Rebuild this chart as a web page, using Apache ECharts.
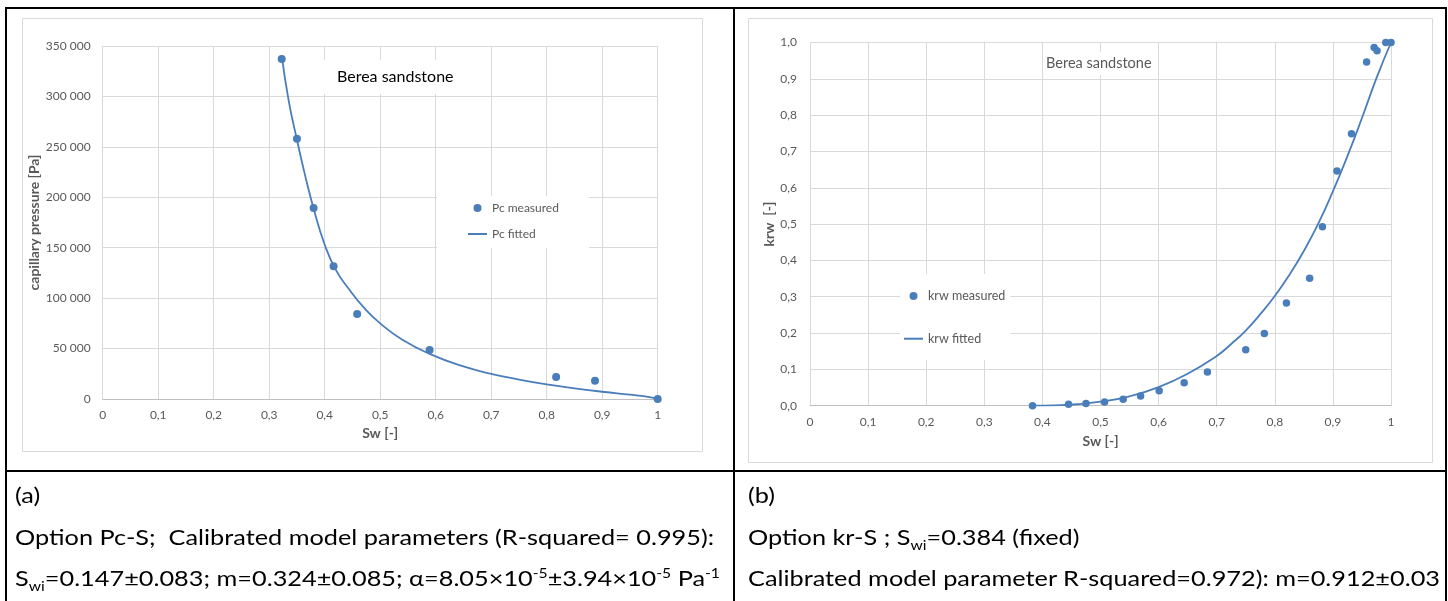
<!DOCTYPE html>
<html>
<head>
<meta charset="utf-8">
<title>Berea sandstone</title>
<script src="https://cdn.jsdelivr.net/npm/echarts@6/dist/echarts.min.js"></script>
<style>
  body { margin: 0; background: #fff; }
  #wrap { position: relative; width: 1448px; height: 601px; overflow: hidden; font-family: Lato, sans-serif; }
  #main { position: absolute; left: 0; top: 0; width: 1448px; height: 601px; }
  .ln { position: absolute; background: #000; }
  .cap { position: absolute; font-size: 21px; line-height: 24px; white-space: nowrap; color: #000; transform-origin: 0 50%; }
  .cap sub, .cap sup { font-size: 13px; line-height: 0; }
</style>
</head>
<body>
<div id="wrap">
  <div id="main"></div>
  <div class="ln" style="left:5px;top:7px;width:1442px;height:2px"></div>
  <div class="ln" style="left:5px;top:7px;width:2px;height:594px"></div>
  <div class="ln" style="left:733px;top:7px;width:2px;height:594px"></div>
  <div class="ln" style="left:1445px;top:7px;width:2px;height:594px"></div>
  <div class="ln" style="left:5px;top:470px;width:1442px;height:2px"></div>

  <div class="cap" style="left:15px;top:483px">(a)</div>
  <div class="cap" style="left:15px;top:525px">Option Pc-S;&nbsp; Calibrated model parameters (R-squared= 0.995):</div>
  <div class="cap" style="left:15px;top:566px">S<sub>wi</sub>=0.147±0.083; m=0.324±0.085; α=8.05×10<sup>-5</sup>±3.94×10<sup>-5</sup> Pa<sup>-1</sup></div>
  <div class="cap" style="left:748px;top:483px">(b)</div>
  <div class="cap" style="left:748px;top:525px">Option kr-S ; S<sub>wi</sub>=0.384 (fixed)</div>
  <div class="cap" id="capRef" style="left:748px;top:566px">Calibrated model parameter R-squared=0.972): m=0.912±0.03</div>
</div>
<script type="text/javascript">
// (a) capillary pressure
var pcSw   = [0.3225, 0.350, 0.380, 0.416, 0.4585, 0.589, 0.817, 0.887, 1.0];
var pcMeas = [337000, 258000, 189400, 131600, 84300, 48600, 21800, 18200, 0];
var pcFitSw = [0.3225, 0.335, 0.35, 0.365, 0.38, 0.40, 0.42, 0.445, 0.47, 0.50, 0.54, 0.59, 0.65, 0.70, 0.75, 0.80, 0.85, 0.90, 0.95, 0.98, 1.0];
var pcFit   = [341000, 296000, 257000, 221000, 189000, 153000, 128000, 108000, 91000, 75000, 58700, 44500, 32300, 25000, 19300, 14500, 10600, 7200, 4300, 2400, 0];

// (b) relative permeability
var krSw   = [0.383, 0.445, 0.475, 0.507, 0.539, 0.569, 0.601, 0.644, 0.684, 0.750, 0.782, 0.820, 0.860, 0.882, 0.907, 0.932, 0.958, 0.971, 0.976, 0.991, 1.0];
var krMeas = [0.0, 0.004, 0.006, 0.010, 0.018, 0.027, 0.041, 0.063, 0.093, 0.154, 0.199, 0.283, 0.351, 0.493, 0.646, 0.749, 0.946, 0.986, 0.977, 1.0, 1.0];
var krFitSw = [0.384, 0.42, 0.46, 0.50, 0.55, 0.60, 0.65, 0.70, 0.725, 0.75, 0.775, 0.80, 0.825, 0.85, 0.875, 0.90, 0.925, 0.95, 0.975, 1.0];
var krFit   = [0.0, 0.001, 0.004, 0.011, 0.026, 0.051, 0.088, 0.137, 0.170, 0.207, 0.252, 0.302, 0.360, 0.426, 0.502, 0.590, 0.687, 0.792, 0.902, 1.0];

function pairs(xs, ys) {
    return xs.map(function (x, i) { return [x, ys[i]]; });
}

var blue = '#4a7ebb';
var labelGray = '#595959';
var gridGray = '#d9d9d9';
var font = 'Lato, sans-serif';

function commaOne(v) {
    if (Math.abs(v) < 1e-9) return '0';
    if (Math.abs(v - 1) < 1e-9) return '1';
    return v.toFixed(1).replace('.', ',');
}
function commaOneFixed(v) {
    return v.toFixed(1).replace('.', ',');
}
function spaced(v) {
    return String(Math.round(v)).replace(/\B(?=(\d{3})+(?!\d))/g, ' ');
}

var tickLabel = { color: labelGray, fontFamily: font, fontSize: 12 };
var axisName = { color: labelGray, fontFamily: font, fontSize: 14, fontWeight: 'bold' };

var myChart = echarts.init(document.getElementById('main'));

option = {
    animation: false,
    backgroundColor: 'transparent',
    graphic: [{
        type: 'rect',
        shape: { x: 22.5, y: 18.5, width: 680, height: 433 },
        style: { fill: 'none', stroke: gridGray, lineWidth: 1 },
        z: -1
    }, {
        type: 'rect',
        shape: { x: 748.5, y: 18.5, width: 684, height: 444 },
        style: { fill: 'none', stroke: gridGray, lineWidth: 1 },
        z: -1
    }],
    title: [{
        text: 'Berea sandstone',
        left: 322,
        top: 60,
        padding: [9, 15],
        backgroundColor: '#fff',
        textStyle: { fontFamily: font, fontSize: 16, fontWeight: 'normal', color: '#000' }
    }, {
        text: 'Berea sandstone',
        left: 1044,
        top: 52,
        padding: [4, 2],
        backgroundColor: '#fff',
        textStyle: { fontFamily: font, fontSize: 14.5, fontWeight: 'normal', color: labelGray }
    }],
    legend: [{
        data: ['Pc measured', { name: 'Pc fitted', itemStyle: { opacity: 0 } }],
        orient: 'vertical',
        left: 437,
        top: 196,
        padding: [5, 30, 7, 30],
        itemGap: 12,
        itemWidth: 19,
        itemHeight: 8,
        backgroundColor: '#fff',
        textStyle: { color: labelGray, fontFamily: font, fontSize: 12, lineHeight: 14 }
    }, {
        data: ['krw measured', { name: 'krw fitted', itemStyle: { opacity: 0 } }],
        orient: 'vertical',
        left: 900,
        top: 274,
        padding: [15, 5, 14, 3],
        itemGap: 28.7,
        itemWidth: 19,
        itemHeight: 8,
        backgroundColor: '#fff',
        textStyle: { color: labelGray, fontFamily: font, fontSize: 12.5, lineHeight: 14 }
    }],
    grid: [{
        left: 102.7, top: 46, width: 555, height: 353
    }, {
        left: 810, top: 42.5, width: 581, height: 363.2
    }],
    xAxis: [{
        gridIndex: 0,
        type: 'value',
        min: 0, max: 1, interval: 0.1,
        name: 'Sw [-]',
        nameLocation: 'middle',
        nameGap: 27,
        nameTextStyle: axisName,
        axisLine: { show: true, lineStyle: { color: '#bfbfbf' } },
        axisTick: { show: false },
        splitLine: { show: true, lineStyle: { color: gridGray } },
        axisLabel: Object.assign({ margin: 10, formatter: commaOne }, tickLabel)
    }, {
        gridIndex: 1,
        type: 'value',
        min: 0, max: 1, interval: 0.1,
        name: 'Sw [-]',
        nameLocation: 'middle',
        nameGap: 29,
        nameTextStyle: axisName,
        axisLine: { show: true, lineStyle: { color: '#bfbfbf' } },
        axisTick: { show: false },
        splitLine: { show: true, lineStyle: { color: gridGray } },
        axisLabel: Object.assign({ margin: 10, formatter: commaOne }, tickLabel)
    }],
    yAxis: [{
        gridIndex: 0,
        type: 'value',
        min: 0, max: 350000, interval: 50000,
        name: 'capillary pressure [Pa]',
        nameLocation: 'middle',
        nameGap: 55,
        nameTextStyle: axisName,
        axisLine: { show: false },
        axisTick: { show: false },
        splitLine: { show: true, lineStyle: { color: gridGray } },
        axisLabel: Object.assign({ margin: 12, formatter: spaced }, tickLabel)
    }, {
        gridIndex: 1,
        type: 'value',
        min: 0, max: 1, interval: 0.1,
        name: 'krw  [-]',
        nameLocation: 'middle',
        nameGap: 32,
        nameTextStyle: axisName,
        axisLine: { show: false },
        axisTick: { show: false },
        splitLine: { show: true, lineStyle: { color: gridGray } },
        axisLabel: Object.assign({ margin: 13, formatter: commaOneFixed }, tickLabel)
    }],
    series: [{
        name: 'Pc fitted',
        type: 'line',
        xAxisIndex: 0, yAxisIndex: 0,
        data: pairs(pcFitSw, pcFit),
        smooth: 0.5,
        symbol: 'none',
        lineStyle: { color: blue, width: 1.8 },
        itemStyle: { color: blue },
        z: 2
    }, {
        name: 'Pc measured',
        type: 'scatter',
        xAxisIndex: 0, yAxisIndex: 0,
        data: pairs(pcSw, pcMeas),
        symbolSize: 8,
        itemStyle: { color: blue, opacity: 1 },
        z: 3
    }, {
        name: 'krw fitted',
        type: 'line',
        xAxisIndex: 1, yAxisIndex: 1,
        data: pairs(krFitSw, krFit),
        smooth: 0.5,
        symbol: 'none',
        lineStyle: { color: blue, width: 1.8 },
        itemStyle: { color: blue },
        z: 2
    }, {
        name: 'krw measured',
        type: 'scatter',
        xAxisIndex: 1, yAxisIndex: 1,
        data: pairs(krSw, krMeas),
        symbolSize: 7.5,
        itemStyle: { color: blue, opacity: 1 },
        z: 3
    }]
};

myChart.setOption(option);

// stretch caption lines to the width they take in the picture
var ref = document.getElementById('capRef');
var k = 692 / ref.getBoundingClientRect().width;
document.querySelectorAll('.cap').forEach(function (c) {
    c.style.transform = 'scaleX(' + k + ')';
});
</script>
</body>
</html>
